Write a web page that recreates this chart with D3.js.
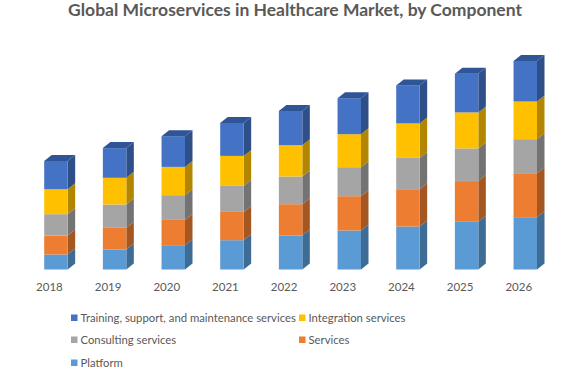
<!DOCTYPE html>
<html>
<head>
<meta charset="utf-8">
<script src="https://cdn.jsdelivr.net/npm/d3@7"></script>
<style>
  body { margin: 0; background: #fff; }
  text { font-family: Lato, sans-serif; }
</style>
</head>
<body>
<div class="chart"></div>
<script>
let years = ['2018', '2019', '2020', '2021', '2022', '2023', '2024', '2025', '2026']

// stacked bottom to top
let platform = [15, 20, 24.3, 29.3, 34, 39, 43, 47.7, 52.3]
let services = [19, 21.7, 25.3, 28.3, 31.3, 34.3, 37.3, 40.7, 44]
let consulting = [21.3, 23.3, 24.7, 26, 27.7, 29, 31.3, 32.7, 34]
let integration = [25, 26.7, 28.3, 30, 31.3, 33, 34.5, 36, 37.7]
let training = [28.3, 29.7, 30.7, 33, 34.3, 36, 38, 38.7, 40.6]

let seriesNames = ['Platform', 'Services', 'Consulting services', 'Integration services', 'Training, support, and maintenance services']
let seriesValues = [platform, services, consulting, integration, training]
let frontColors = ['#5b9bd5', '#ed7d31', '#a5a5a5', '#ffc000', '#4472c4']
let sideColors = ['#3f6c94', '#a55722', '#737373', '#b28600', '#2f4f88']
let topColor = '#2f5597'

let width = 580
let height = 372
let depthX = 7.5
let depthY = 6

let xScale = d3.scaleBand()
                .domain(years)
                .range([26.6, 554.6])
                .paddingInner(0.6)
                .paddingOuter(0.3)

let yScale = d3.scaleLinear()
                .domain([0, 210])
                .range([269.5, 59.5])

let rows = years.map((y, i) => {
    let row = { year: y }
    seriesNames.forEach((s, k) => { row[s] = seriesValues[k][i] })
    return row
})

let stacked = d3.stack().keys(seriesNames)(rows)

let svg = d3.select('.chart')
            .append('svg')
            .attr('width', width)
            .attr('height', height)
            .style('display', 'block')

svg.append('text')
    .attr('x', 295)
    .attr('y', 16)
    .attr('text-anchor', 'middle')
    .attr('fill', '#595959')
    .attr('font-size', 17.5)
    .attr('font-weight', 700)
    .text('Global Microservices in Healthcare Market, by Component')

stacked.forEach((layer, k) => {
    let g = svg.append('g')

    g.selectAll('.side')
        .data(layer)
        .enter()
        .append('path')
        .attr('fill', sideColors[k])
        .attr('d', (d) => {
            let x = xScale(d.data.year) + xScale.bandwidth()
            let y0 = yScale(d[0])
            let y1 = yScale(d[1])
            return `M${x},${y0}L${x + depthX},${y0 - depthY}L${x + depthX},${y1 - depthY}L${x},${y1}Z`
        })

    g.selectAll('.front')
        .data(layer)
        .enter()
        .append('rect')
        .attr('fill', frontColors[k])
        .attr('x', (d) => xScale(d.data.year))
        .attr('y', (d) => yScale(d[1]))
        .attr('width', xScale.bandwidth())
        .attr('height', (d) => yScale(d[0]) - yScale(d[1]))

    // only the top series shows its lid
    if (k === stacked.length - 1) {
        g.selectAll('.lid')
            .data(layer)
            .enter()
            .append('path')
            .attr('fill', topColor)
            .attr('d', (d) => {
                let x = xScale(d.data.year)
                let w = xScale.bandwidth()
                let y = yScale(d[1])
                return `M${x},${y}L${x + depthX},${y - depthY}L${x + w + depthX},${y - depthY}L${x + w},${y}Z`
            })
    }
})

let xAxis = d3.axisBottom(xScale).tickSize(0)

let axisG = svg.append('g')
    .attr('transform', 'translate(-6.5, 280)')
    .call(xAxis)

axisG.select('.domain').remove()
axisG.selectAll('text')
    .attr('font-family', 'Lato, sans-serif')
    .attr('font-size', 11.5)
    .attr('fill', '#595959')

// legend, read left to right
let legendOrder = [4, 3, 2, 1, 0]
let legendX = [71, 299, 71, 299, 71]
let legendY = [318, 318, 340, 340, 363]

legendOrder.forEach((k, i) => {
    svg.append('rect')
        .attr('x', legendX[i])
        .attr('y', legendY[i] - 3.5)
        .attr('width', 6.5)
        .attr('height', 6.5)
        .attr('fill', frontColors[k])

    svg.append('text')
        .attr('x', legendX[i] + 9.5)
        .attr('y', legendY[i] + 4)
        .attr('fill', '#595959')
        .attr('font-size', 11.3)
        .text(seriesNames[k])
})
</script>
</body>
</html>
